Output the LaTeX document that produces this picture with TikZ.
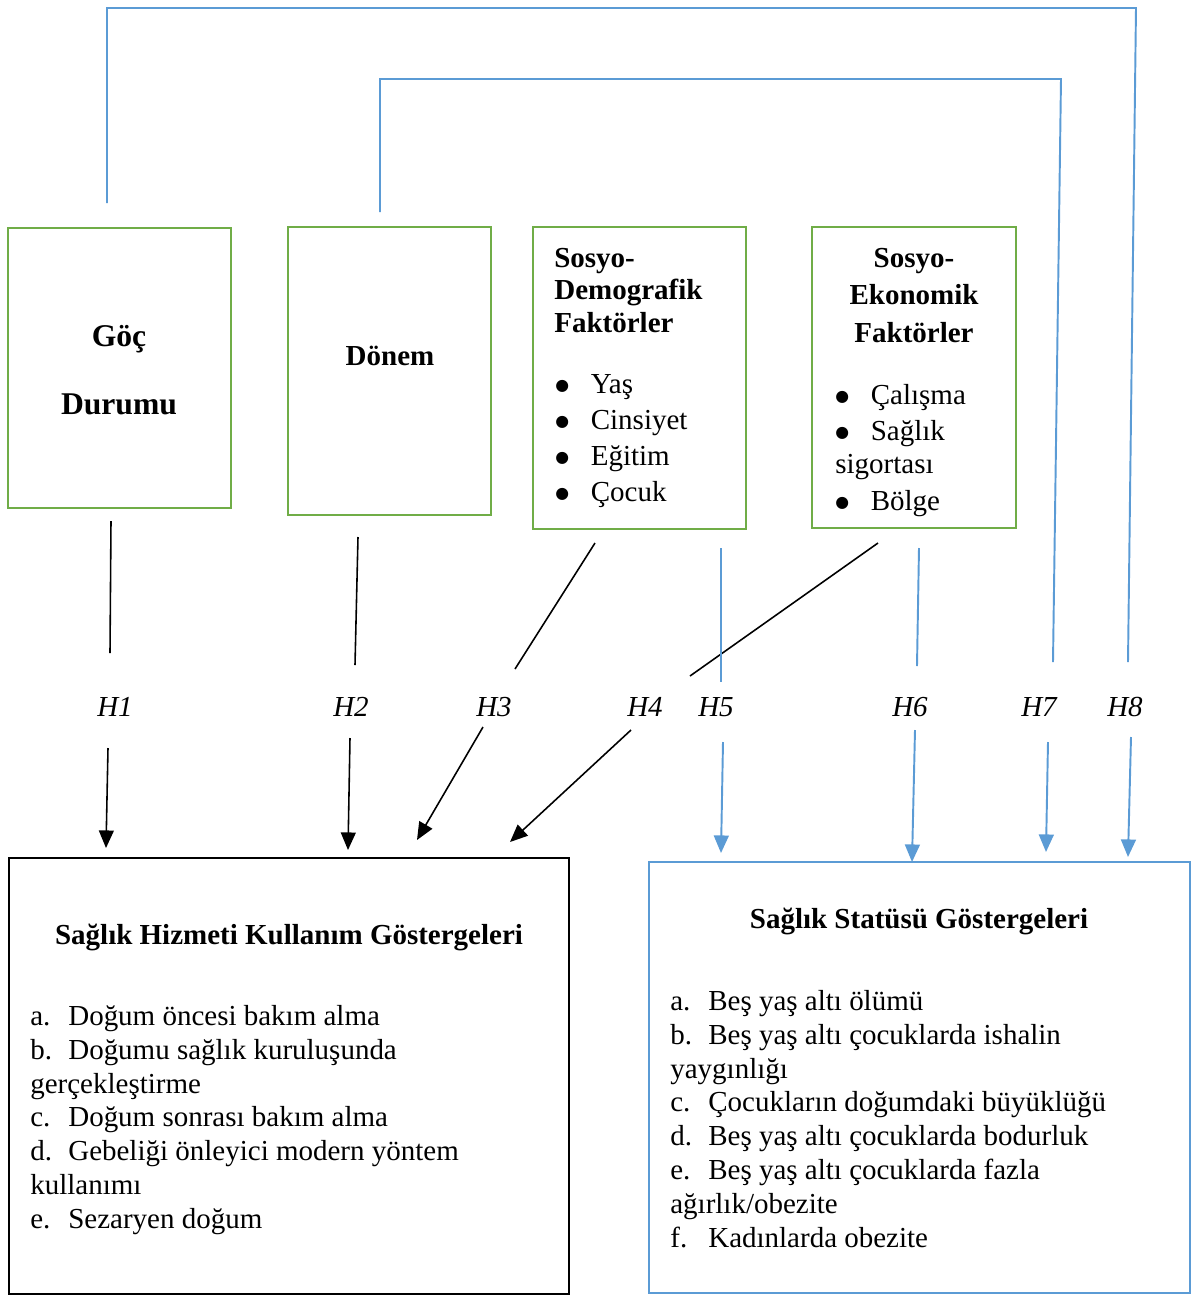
\documentclass[tikz,border=0pt]{standalone}
\usepackage{fontspec}
\setmainfont{Liberation Serif}
\newfontfamily\symfont{DejaVu Sans}
\usetikzlibrary{arrows.meta}
\definecolor{boxgreen}{HTML}{70AD47}
\definecolor{linkblue}{HTML}{5B9BD5}
\newcommand{\itemlbl}[1]{\makebox[0.76cm][l]{#1}}
\newcommand{\bul}{\makebox[0.71cm][l]{\raisebox{1.6pt}{\symfont\fontsize{9}{10}\selectfont ●}}}

\begin{document}
\begin{tikzpicture}[x=0.02cm, y=-0.02cm,
  txt/.style={font=\fontsize{16.5}{19.4}\selectfont, inner sep=0pt},
  ttl/.style={inner sep=0pt, font=\fontsize{16.5}{19.4}\selectfont\bfseries},
  big/.style={inner sep=0pt, font=\fontsize{18}{21}\selectfont\bfseries},
  hyp/.style={inner sep=0pt, font=\fontsize{16.5}{19.4}\selectfont\itshape},
  factor/.style={draw=boxgreen, line width=1.1pt, inner sep=0pt},
  outcome/.style={draw=#1, line width=1.3pt, inner sep=0pt},
  plain/.style={draw=black, line width=0.9pt},
  link/.style={draw=linkblue, line width=1.1pt},
  tip/.style={-{Triangle[length=10pt,width=8.5pt]}}]
\useasboundingbox (0,0) rectangle (1195,1296);

% factor boxes
\node[factor, minimum width=4.46cm, minimum height=5.6cm] (goc) at (119.5,368) {};
\node[factor, minimum width=4.06cm, minimum height=5.76cm] (donem) at (389.5,371) {};
\node[factor, minimum width=4.26cm, minimum height=6.04cm] (demog) at (639.5,378) {};
\node[factor, minimum width=4.08cm, minimum height=6.02cm] (ekon) at (914,377.5) {};
% outcome boxes
\node[outcome=black, minimum width=11.2cm, minimum height=8.72cm] (hizmet) at (289,1076) {};
\node[outcome=linkblue, minimum width=10.82cm, minimum height=8.62cm] (statu) at (919.5,1077.5) {};

\node[big, anchor=base] (gocA) at (119,346) {Göç};
\node[big, anchor=base] (gocB) at (119,414) {Durumu};
\node[ttl, anchor=base] (donemT) at (390,365) {Dönem};

\foreach \y/\t [count=\i] in {267/Sosyo-, 299/Demografik, 332/Faktörler}
  \node[ttl, anchor=base west] (dt\i) at (554,\y) {\t};
\foreach \y/\t [count=\i] in {393/Yaş, 429/Cinsiyet, 465/Eğitim, 501/Çocuk}
  \node[txt, anchor=base west] (di\i) at (555,\y) {\bul\t};

\foreach \y/\t [count=\i] in {267/Sosyo-, 304/Ekonomik, 342/Faktörler}
  \node[ttl, anchor=base] (et\i) at (914,\y) {\t};
\foreach \y/\t [count=\i] in {404/{\bul Çalışma}, 440/{\bul Sağlık}, 473/sigortası, 510/{\bul Bölge}}
  \node[txt, anchor=base west] (ei\i) at (835,\y) {\t};

\node[ttl, anchor=base] (hizmetT) at (289,944) {Sağlık Hizmeti Kullanım Göstergeleri};
\foreach \y/\t [count=\i] in {1025/{\itemlbl{a.}Doğum öncesi bakım alma},
    1059/{\itemlbl{b.}Doğumu sağlık kuruluşunda}, 1093/gerçekleştirme,
    1126/{\itemlbl{c.}Doğum sonrası bakım alma},
    1160/{\itemlbl{d.}Gebeliği önleyici modern yöntem}, 1194/kullanımı,
    1228/{\itemlbl{e.}Sezaryen doğum}}
  \node[txt, anchor=base west] (hl\i) at (30,\y) {\t};

\node[ttl, anchor=base] (statuT) at (919,928) {Sağlık Statüsü Göstergeleri};
\foreach \y/\t [count=\i] in {1010/{\itemlbl{a.}Beş yaş altı ölümü},
    1044/{\itemlbl{b.}Beş yaş altı çocuklarda ishalin}, 1078/yaygınlığı,
    1111/{\itemlbl{c.}Çocukların doğumdaki büyüklüğü},
    1145/{\itemlbl{d.}Beş yaş altı çocuklarda bodurluk},
    1179/{\itemlbl{e.}Beş yaş altı çocuklarda fazla}, 1213/{ağırlık/obezite},
    1247/{\itemlbl{f.}Kadınlarda obezite}}
  \node[txt, anchor=base west] (sl\i) at (670,\y) {\t};

% hypothesis labels
\foreach \x [count=\i] in {115,351,494,645,716,910,1039,1125}
  \node[hyp, anchor=base] (h\i) at (\x,716) {H\i};

% connector ends
\coordinate (u1) at (111,521); \coordinate (l1) at (110,653);
\coordinate (a1) at (108,748); \coordinate (b1) at (106,848);
\coordinate (u2) at (358,537); \coordinate (l2) at (355,665);
\coordinate (a2) at (350,738); \coordinate (b2) at (348,850);
\coordinate (u3) at (595,543); \coordinate (l3) at (515,669);
\coordinate (a3) at (483,727); \coordinate (b3) at (417,840);
\coordinate (u4) at (878,543); \coordinate (l4) at (690,676);
\coordinate (a4) at (631,730); \coordinate (b4) at (510,842);
\coordinate (u5) at (721,548); \coordinate (l5) at (721,682);
\coordinate (a5) at (723,742); \coordinate (b5) at (721,853);
\coordinate (u6) at (919,548); \coordinate (l6) at (917,666);
\coordinate (a6) at (915,730); \coordinate (b6) at (912,862);
\coordinate (u7) at (380,212); \coordinate (k7) at (1061,79);
\coordinate (l7) at (1053,662);
\coordinate (a7) at (1048,742); \coordinate (b7) at (1046,852);
\coordinate (u8) at (107,203); \coordinate (k8) at (1136,8);
\coordinate (l8) at (1128,662);
\coordinate (a8) at (1131,737); \coordinate (b8) at (1128,857);

\foreach \i in {1,...,4}
{
  \draw[plain] (u\i) -- (l\i);
  \draw[plain, tip] (a\i) -- (b\i);
}
\foreach \i in {5,6}
{
  \draw[link] (u\i) -- (l\i);
}
\foreach \i in {7,8}
{
  \draw[link] (u\i) |- (k\i) -- (l\i);
}
\foreach \i in {5,...,8}
{
  \draw[link, tip] (a\i) -- (b\i);
}
\end{tikzpicture}
\end{document}
